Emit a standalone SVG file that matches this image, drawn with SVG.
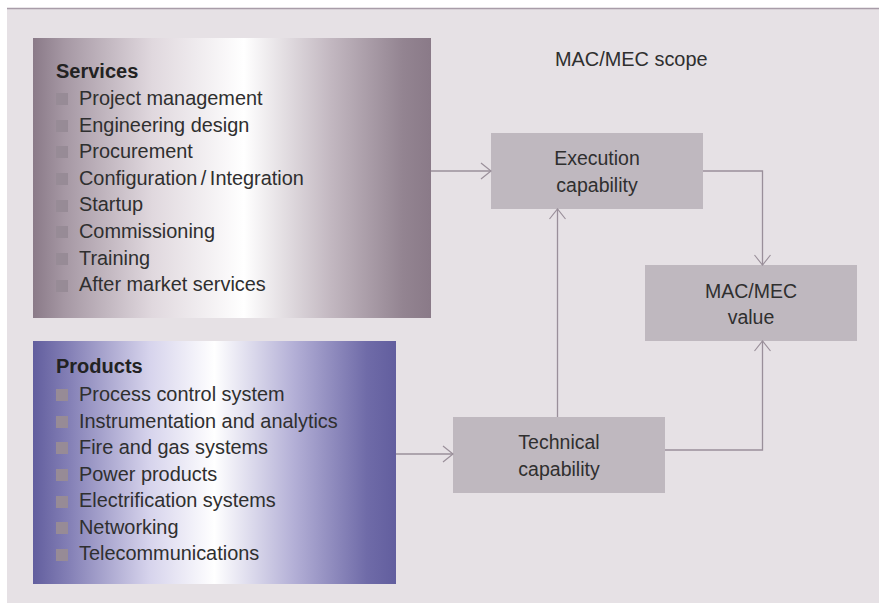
<svg xmlns="http://www.w3.org/2000/svg" width="879" height="603" viewBox="0 0 879 603">
<defs>
<linearGradient id="gServ" x1="0" y1="0" x2="1" y2="0">
<stop offset="0" stop-color="#8a7a88"/>
<stop offset="0.08" stop-color="#a698a4"/>
<stop offset="0.3" stop-color="#e0d8de"/>
<stop offset="0.53" stop-color="#ffffff"/>
<stop offset="0.75" stop-color="#c2b7c0"/>
<stop offset="0.93" stop-color="#938491"/>
<stop offset="1" stop-color="#8a7a88"/>
</linearGradient>
<linearGradient id="gProd" x1="0" y1="0" x2="1" y2="0">
<stop offset="0" stop-color="#625e9e"/>
<stop offset="0.1" stop-color="#8480b6"/>
<stop offset="0.32" stop-color="#d6d3ec"/>
<stop offset="0.5" stop-color="#ffffff"/>
<stop offset="0.72" stop-color="#b3afd6"/>
<stop offset="0.92" stop-color="#6f6ba8"/>
<stop offset="1" stop-color="#625e9e"/>
</linearGradient>
<marker id="arr" viewBox="0 0 12 18" refX="11" refY="9" markerWidth="12" markerHeight="18" markerUnits="userSpaceOnUse" orient="auto">
<path d="M1,1 L11,9 L1,17" fill="none" stroke="#9a8f9a" stroke-width="1.2"/>
</marker>
<style>
.t{font-family:"Liberation Sans",Arial,sans-serif;font-size:19.9px;fill:#2f2f2f}
.h{font-family:"Liberation Sans",Arial,sans-serif;font-size:20px;font-weight:bold;fill:#222}
.n{font-family:"Liberation Sans",Arial,sans-serif;font-size:19.5px;fill:#2f2f2f;text-anchor:middle}
.b{fill:#978b96}
.box{fill:#bfb8bf}
.c{fill:none;stroke:#9a8f9a;stroke-width:1.3;marker-end:url(#arr)}
</style>
</defs>
<rect x="0" y="0" width="879" height="603" fill="#ffffff"/>
<rect x="7" y="9" width="872" height="594" fill="#e6e1e5"/>
<line x1="7" y1="8.5" x2="879" y2="8.5" stroke="#a89ca8" stroke-width="1.5"/>
<text class="t" x="555" y="66">MAC/MEC scope</text>
<g id="services">
<rect x="33" y="38" width="398" height="280" fill="url(#gServ)"/>
<text class="h" x="56" y="78">Services</text>
<rect class="b" x="56" y="93" width="12" height="12"/><text class="t" x="79" y="105">Project management</text>
<rect class="b" x="56" y="120" width="12" height="12"/><text class="t" x="79" y="131.5">Engineering design</text>
<rect class="b" x="56" y="146" width="12" height="12"/><text class="t" x="79" y="158">Procurement</text>
<rect class="b" x="56" y="173" width="12" height="12"/><text class="t" x="79" y="185">Configuration<tspan dx="3.5">/</tspan><tspan dx="3.5">Integration</tspan></text>
<rect class="b" x="56" y="200" width="12" height="12"/><text class="t" x="79" y="211">Startup</text>
<rect class="b" x="56" y="226" width="12" height="12"/><text class="t" x="79" y="238">Commissioning</text>
<rect class="b" x="56" y="253" width="12" height="12"/><text class="t" x="79" y="265">Training</text>
<rect class="b" x="56" y="280" width="12" height="12"/><text class="t" x="79" y="291">After market services</text>
</g>
<g id="products">
<rect x="33" y="341" width="363" height="243" fill="url(#gProd)"/>
<text class="h" x="56" y="373">Products</text>
<rect class="b" x="56" y="389" width="12" height="12"/><text class="t" x="79" y="401">Process control system</text>
<rect class="b" x="56" y="416" width="12" height="12"/><text class="t" x="79" y="427.5">Instrumentation and analytics</text>
<rect class="b" x="56" y="442" width="12" height="12"/><text class="t" x="79" y="454">Fire and gas systems</text>
<rect class="b" x="56" y="469" width="12" height="12"/><text class="t" x="79" y="481">Power products</text>
<rect class="b" x="56" y="496" width="12" height="12"/><text class="t" x="79" y="507">Electrification systems</text>
<rect class="b" x="56" y="522" width="12" height="12"/><text class="t" x="79" y="534">Networking</text>
<rect class="b" x="56" y="549" width="12" height="12"/><text class="t" x="79" y="560">Telecommunications</text>
</g>
<g id="execution">
<rect class="box" x="491" y="133" width="212" height="76"/>
<text class="n" x="597" y="165">Execution</text>
<text class="n" x="597" y="192">capability</text>
</g>
<g id="macmec">
<rect class="box" x="645" y="265" width="212" height="76"/>
<text class="n" x="751" y="298">MAC/MEC</text>
<text class="n" x="751" y="324">value</text>
</g>
<g id="technical">
<rect class="box" x="453" y="417" width="212" height="76"/>
<text class="n" x="559" y="449">Technical</text>
<text class="n" x="559" y="476">capability</text>
</g>
<g id="connectors">
<path class="c" d="M431,171 H491"/>
<path class="c" d="M396,454 H453"/>
<path class="c" d="M557.5,417 V209"/>
<path class="c" d="M703,171 H762.5 V265"/>
<path class="c" d="M665,450 H762.5 V341"/>
</g>
</svg>
